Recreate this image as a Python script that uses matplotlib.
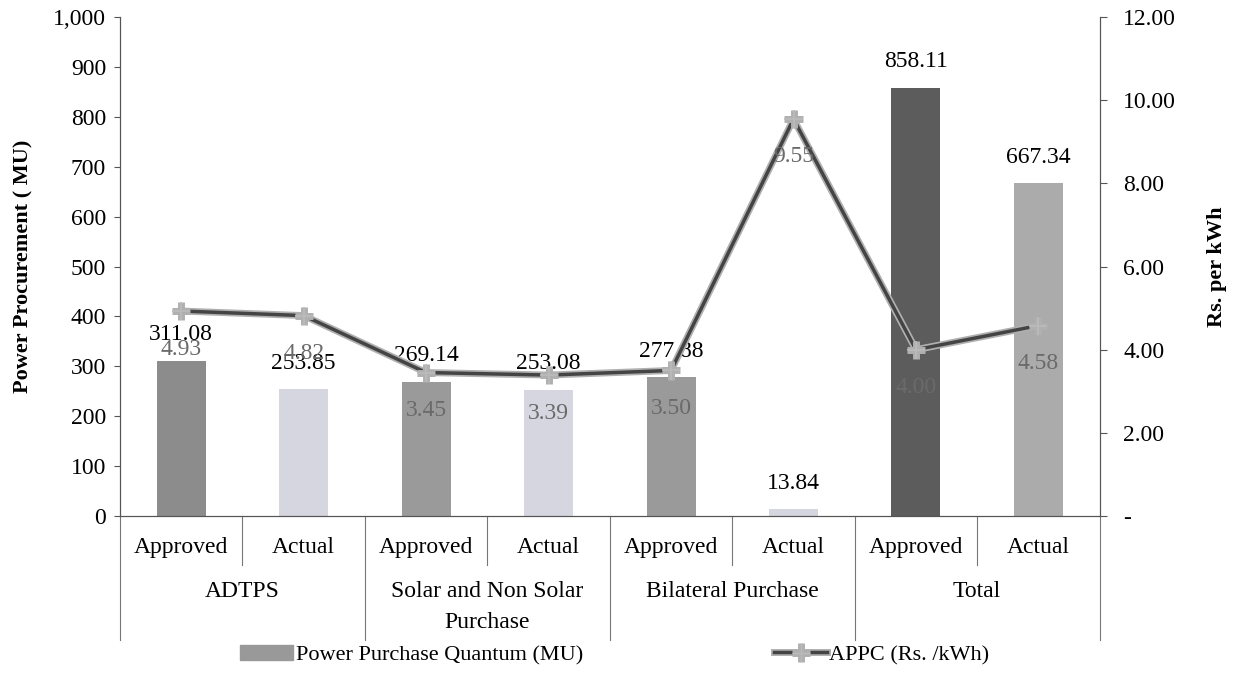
import matplotlib
matplotlib.use('Agg')
import matplotlib.pyplot as plt
import matplotlib.patheffects as pe
from matplotlib.patches import Patch
from matplotlib.lines import Line2D
from matplotlib.ticker import FuncFormatter
import numpy as np

groups = ['ADTPS', 'Solar and Non Solar\nPurchase', 'Bilateral Purchase', 'Total']
subcats = ['Approved', 'Actual']
quantum = [311.08, 253.85, 269.14, 253.08, 277.88, 13.84, 858.11, 667.34]
appc = [4.93, 4.82, 3.45, 3.39, 3.50, 9.55, 4.00, 4.58]
bar_colors = ['#8c8c8c', '#d6d6e0', '#9a9a9a', '#d6d6e0',
              '#9a9a9a', '#d6d6e0', '#5c5c5c', '#ababab']

plt.rcParams['font.family'] = ['Liberation Serif', 'DejaVu Serif']
plt.rcParams['font.size'] = 17

fig = plt.figure(figsize=(12.4, 6.75), dpi=100)
ax = fig.add_axes([0.0968, 0.2356, 0.790, 0.739])
ax2 = ax.twinx()

x = np.arange(len(quantum)) + 0.5
ax.bar(x, quantum, width=0.4, color=bar_colors, zorder=2)
ax.set_xlim(0, 8)
ax.set_ylim(0, 1000)
ax.set_yticks(np.arange(0, 1001, 100))
ax.yaxis.set_major_formatter(FuncFormatter(lambda v, p: f'{int(v):,}'))
ax.set_xticks([])
ax.set_ylabel('Power Procurement ( MU)', fontweight='bold', fontsize=16, labelpad=14)

for s in ['top']:
    ax.spines[s].set_visible(False)
    ax2.spines[s].set_visible(False)
for a in (ax, ax2):
    a.spines['left'].set_color('#555555')
    a.spines['right'].set_color('#555555')
    a.spines['bottom'].set_color('#555555')
ax.tick_params(axis='y', length=4, color='#555555', pad=6)

# quantity labels above the bars
for xi, q in zip(x, quantum):
    ax.annotate(f'{q:.2f}', (xi, q), xytext=(0, 26), textcoords='offset pixels',
                ha='center', va='center', fontsize=17, color='black', zorder=5)

line_pe = [pe.Stroke(linewidth=5, foreground='#b0b0b0'), pe.Normal()]
ax2.plot(x, appc, color='#444444', lw=2.5, marker='+', markersize=13,
         markeredgecolor='#bbbbbb', markeredgewidth=1.2,
         path_effects=line_pe, zorder=4)
ax2.set_ylim(0, 12)
ax2.set_yticks(np.arange(0, 12.1, 2))
ax2.yaxis.set_major_formatter(FuncFormatter(lambda v, p: '-' if v == 0 else f'{v:.2f}'))
ax2.tick_params(axis='y', length=5, color='#555555', pad=12)
ax2.set_ylabel('Rs. per kWh', fontweight='bold', fontsize=16, labelpad=22)

# APPC labels below the line points
for xi, v in zip(x, appc):
    ax2.annotate(f'{v:.2f}', (xi, v), xytext=(0, -38), textcoords='offset pixels',
                 ha='center', va='center', fontsize=17, color='#6a6a6a', zorder=5)

# two-level category axis
tr = ax.get_xaxis_transform()
for i in range(9):
    bottom = -0.248 if i % 2 == 0 else -0.098
    ax.plot([i, i], [0, bottom], transform=tr, color='#777777', lw=0.8, clip_on=False)
for xi, i in zip(x, range(8)):
    ax.text(xi, -0.064, subcats[i % 2], transform=tr, ha='center', va='center', fontsize=17)
for g, name in enumerate(groups):
    ax.text(2 * g + 1, -0.131, name, transform=tr, ha='center', va='top',
            fontsize=17, linespacing=1.6)

handles = [Patch(color='#999999'),
           Line2D([0], [0], color='#444444', lw=2.5, marker='+', markersize=13,
                  markeredgecolor='#bbbbbb', path_effects=line_pe)]
fig.legend(handles, ['Power Purchase Quantum (MU)', 'APPC (Rs. /kWh)'],
           loc='center left', bbox_to_anchor=(240 / 1240, 1 - 655 / 675), ncol=2,
           frameon=False, fontsize=16, handlelength=2.4, handletextpad=0.1,
           columnspacing=8.6, borderpad=0, borderaxespad=0)

fig.savefig('out.png', dpi=100)
